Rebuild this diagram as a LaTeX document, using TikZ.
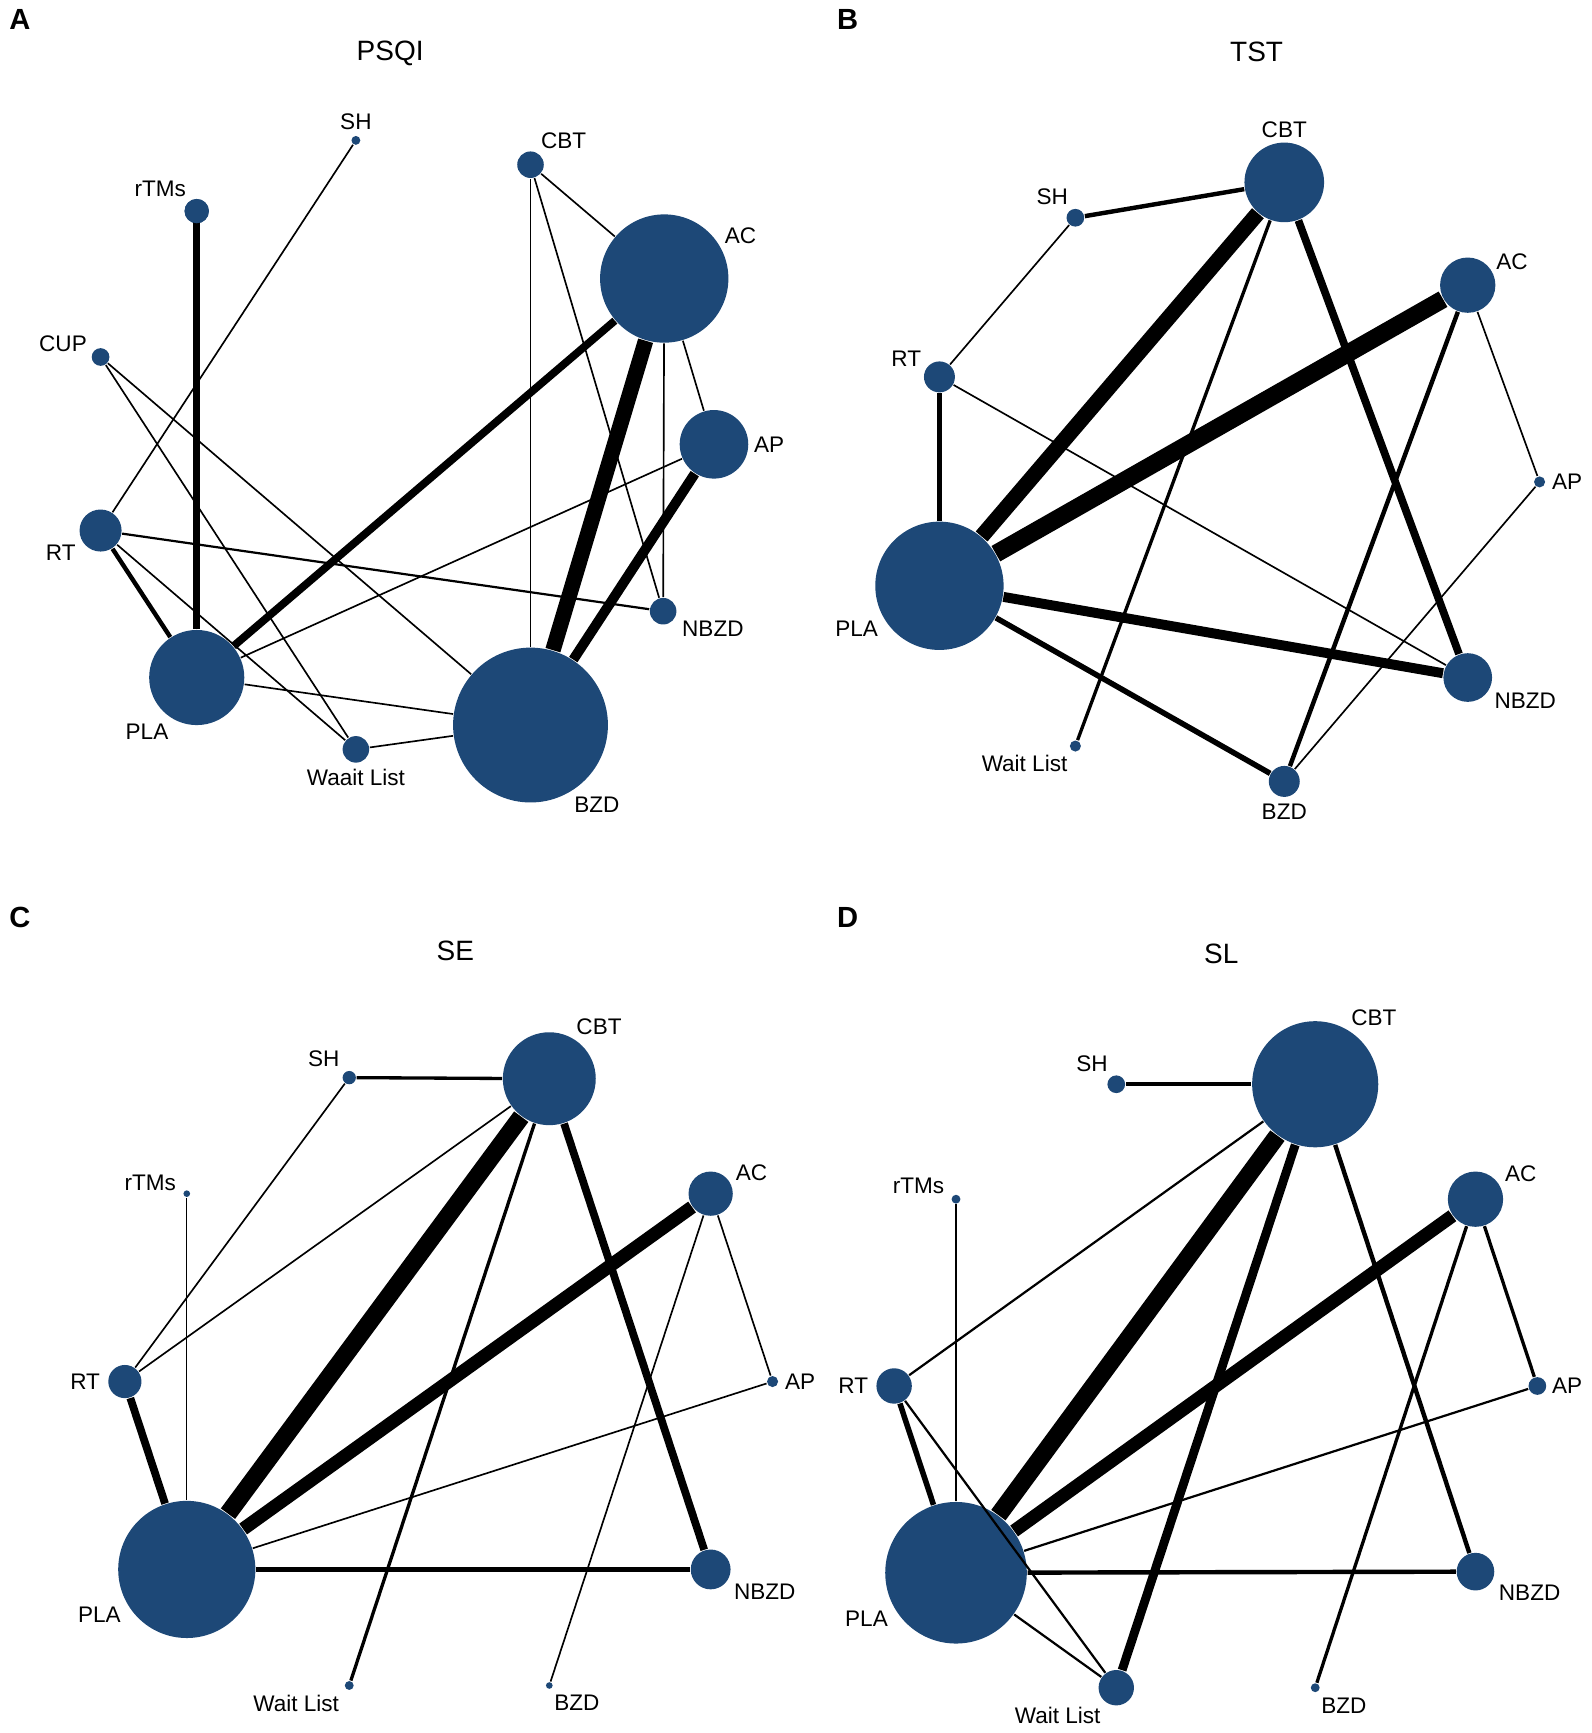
\documentclass[tikz,border=0pt]{standalone}
\usepackage{fontspec}
\setmainfont{Liberation Sans}
\definecolor{nd}{RGB}{29,72,119}
\tikzset{
 dot/.style={circle,fill=nd,inner sep=0pt,draw=none},
 e/.style={line width=#1*0.2845pt},
 lb/.style={font=\fontsize{5.8}{7}\selectfont,inner sep=0pt},
 tt/.style={font=\fontsize{7.2}{8}\selectfont,inner sep=0pt},
 pl/.style={font=\fontsize{7.5}{8}\selectfont\bfseries,inner sep=0pt}
}
\newcommand{\nd}[4]{\node[dot,minimum size=#4*0.02cm] (#1) at (#2,#3) {};}
\begin{document}
\begin{tikzpicture}[x=0.01cm,y=-0.01cm]
\useasboundingbox (0,0) rectangle (1440,1568);
% ---------- A ----------
\node[pl] at (18,18) {A};
\node[tt] at (353,48) {PSQI};
\nd{aSH}{322}{127}{4}
\nd{aCBT}{480}{149}{12}
\nd{arT}{178}{191}{11}
\nd{aAC}{601}{252}{58}
\nd{aCUP}{91}{323}{8}
\nd{aAP}{646}{402}{31}
\nd{aRT}{91}{480}{19}
\nd{aNB}{600}{553}{12}
\nd{aPLA}{178}{613}{43}
\nd{aWL}{322}{678}{12}
\nd{aBZD}{480}{656}{70}
\draw[e=1.5] (aSH)--(aRT);
\draw[e=6] (arT.center)--(aPLA);
\draw[e=1.5] (aCUP)--(aWL);
\draw[e=1.5] (aCUP)--(aBZD);
\draw[e=1.5] (aCBT)--(aAC);
\draw[e=1.2] (aCBT)--(aBZD);
\draw[e=1.5] (aCBT)--(aNB);
\draw[e=7] (aAC)--(aPLA);
\draw[e=14] (aAC)--(aBZD);
\draw[e=1.5] (aAC)--(aNB);
\draw[e=1.5] (aAC)--(aAP);
\draw[e=9] (aAP)--(aBZD);
\draw[e=1.5] (aAP)--(aPLA);
\draw[e=2] (aRT)--(aNB);
\draw[e=4] (aRT)--(aPLA);
\draw[e=1.5] (aRT)--(aWL);
\draw[e=1.5] (aPLA)--(aBZD);
\draw[e=1.5] (aWL)--(aBZD);
\node[dot,minimum size=0.22cm] at (178,191) {};
\node[lb] at (322,110) {SH};
\node[lb] at (510,127) {CBT};
\node[lb] at (145,171) {rTMs};
\node[lb] at (670,213) {AC};
\node[lb] at (57,311) {CUP};
\node[lb] at (696,402) {AP};
\node[lb] at (55,500) {RT};
\node[lb] at (645,569) {NBZD};
\node[lb] at (133,662) {PLA};
\node[lb] at (322,703) {Waait List};
\node[lb] at (540,728) {BZD};
% ---------- B ----------
\node[pl] at (767,18) {B};
\node[tt] at (1137,47) {TST};
\nd{bCBT}{1162}{165}{36}
\nd{bSH}{973}{197}{8}
\nd{bAC}{1328}{258}{25}
\nd{bRT}{850}{341}{14}
\nd{bAP}{1393}{436}{5}
\nd{bPLA}{850}{530}{58}
\nd{bNB}{1328}{613}{22}
\nd{bWL}{973}{675}{5}
\nd{bBZD}{1162}{707}{14}
\draw[e=4] (bSH)--(bCBT);
\draw[e=1.5] (bSH)--(bRT);
\draw[e=5] (bRT)--(bPLA);
\draw[e=1.5] (bRT)--(bNB);
\draw[e=14] (bCBT)--(bPLA);
\draw[e=3] (bCBT)--(bWL);
\draw[e=7] (bCBT)--(bNB);
\draw[e=16] (bAC)--(bPLA);
\draw[e=4] (bAC)--(bBZD);
\draw[e=1.5] (bAC)--(bAP);
\draw[e=1.5] (bAP)--(bBZD);
\draw[e=9] (bPLA)--(bNB);
\draw[e=5] (bPLA)--(bBZD);
\node[lb] at (1162,117) {CBT};
\node[lb] at (952,178) {SH};
\node[lb] at (1368,237) {AC};
\node[lb] at (820,325) {RT};
\node[lb] at (1418,436) {AP};
\node[lb] at (775,569) {PLA};
\node[lb] at (1380,634) {NBZD};
\node[lb] at (927,691) {Wait List};
\node[lb] at (1162,734) {BZD};
% ---------- C ----------
\node[pl] at (18,830) {C};
\node[tt] at (412,860) {SE};
\nd{cCBT}{497}{976}{42}
\nd{cSH}{316}{975}{6}
\nd{crT}{169}{1080}{3}
\nd{cAC}{643}{1080}{20}
\nd{cRT}{113}{1250}{15}
\nd{cAP}{699}{1250}{5}
\nd{cPLA}{169}{1420}{62}
\nd{cNB}{643}{1420}{18}
\nd{cWL}{316}{1525}{4}
\nd{cBZD}{497}{1525}{3}
\draw[e=3] (cSH)--(cCBT);
\draw[e=1.5] (cSH)--(cRT);
\draw[e=1.5] (cRT)--(cCBT);
\draw[e=1.2] (crT)--(cPLA);
\draw[e=7] (cRT)--(cPLA);
\draw[e=16] (cCBT)--(cPLA);
\draw[e=3] (cCBT)--(cWL);
\draw[e=7] (cCBT)--(cNB);
\draw[e=12] (cAC)--(cPLA);
\draw[e=1.5] (cAC)--(cBZD);
\draw[e=1.5] (cAC)--(cAP);
\draw[e=1.5] (cAP)--(cPLA);
\draw[e=5] (cPLA)--(cNB);
\node[lb] at (542,929) {CBT};
\node[lb] at (293,958) {SH};
\node[lb] at (136,1070) {rTMs};
\node[lb] at (680,1061) {AC};
\node[lb] at (77,1250) {RT};
\node[lb] at (724,1250) {AP};
\node[lb] at (90,1461) {PLA};
\node[lb] at (692,1440) {NBZD};
\node[lb] at (268,1541) {Wait List};
\node[lb] at (522,1541) {BZD};
% ---------- D ----------
\node[pl] at (767,830) {D};
\node[tt] at (1105,863) {SL};
\nd{dCBT}{1190}{981}{57}
\nd{dSH}{1010}{981}{8}
\nd{drT}{865}{1085}{4}
\nd{dAC}{1335}{1085}{25}
\nd{dRT}{809}{1254}{16}
\nd{dAP}{1391}{1254}{8}
\nd{dPLA}{865}{1423}{64}
\nd{dNB}{1335}{1422}{17}
\nd{dWL}{1010}{1527}{16}
\nd{dBZD}{1190}{1527}{4}
\draw[e=4] (dSH)--(dCBT);
\draw[e=2] (dRT)--(dCBT);
\draw[e=2.5] (drT)--(dPLA);
\draw[e=5] (dRT)--(dPLA);
\draw[e=2] (dRT)--(dWL);
\draw[e=16] (dCBT)--(dPLA);
\draw[e=8] (dCBT)--(dWL);
\draw[e=4] (dCBT)--(dNB);
\draw[e=12] (dAC)--(dPLA);
\draw[e=3] (dAC)--(dAP);
\draw[e=3] (dAC)--(dBZD);
\draw[e=2] (dAP)--(dPLA);
\draw[e=4] (dPLA)--(dNB);
\draw[e=2] (dPLA)--(dWL);
\node[lb] at (1243,921) {CBT};
\node[lb] at (988,962) {SH};
\node[lb] at (831,1073) {rTMs};
\node[lb] at (1376,1062) {AC};
\node[lb] at (772,1254) {RT};
\node[lb] at (1418,1254) {AP};
\node[lb] at (784,1465) {PLA};
\node[lb] at (1384,1441) {NBZD};
\node[lb] at (957,1552) {Wait List};
\node[lb] at (1216,1543) {BZD};
\end{tikzpicture}
\end{document}
